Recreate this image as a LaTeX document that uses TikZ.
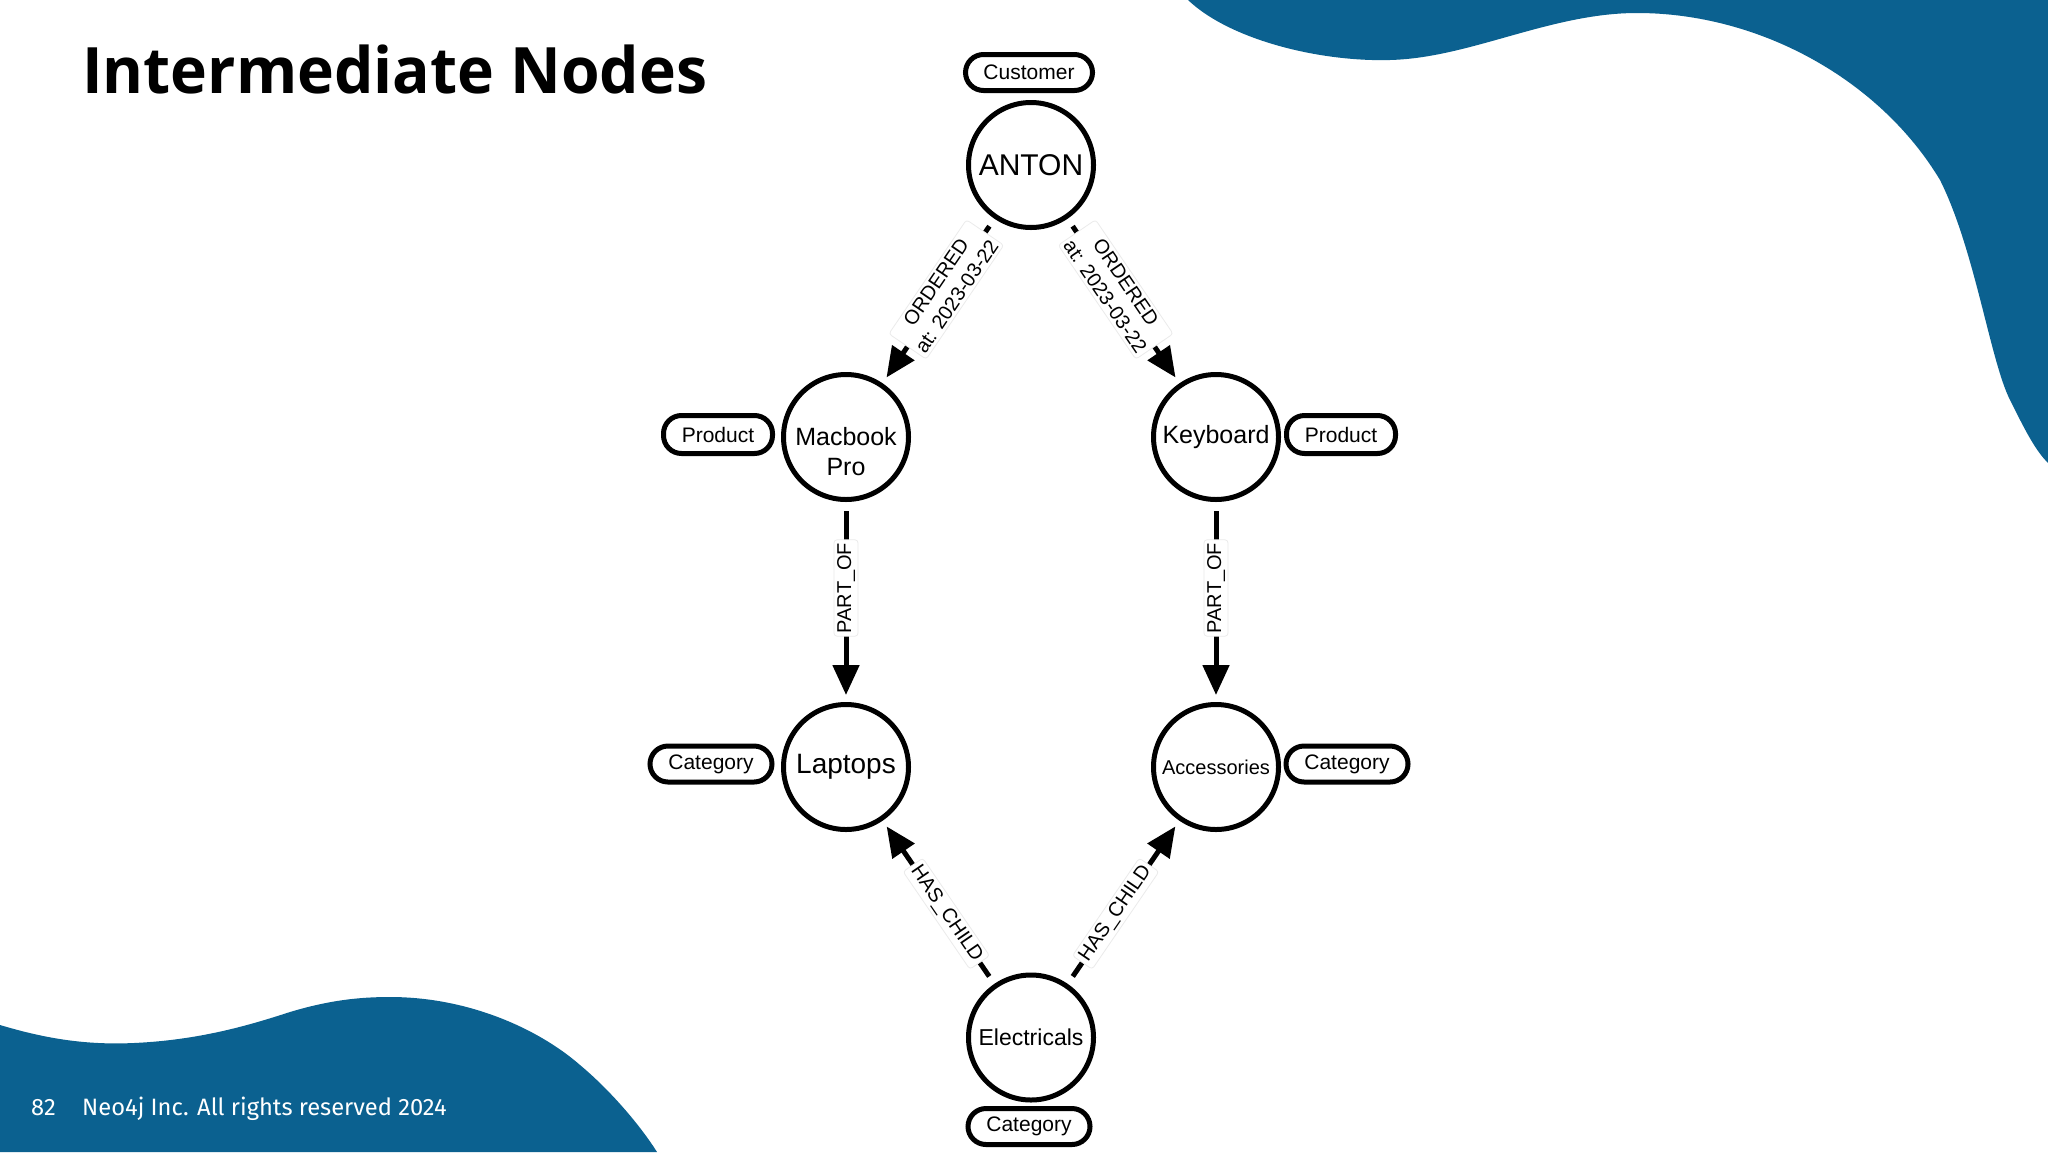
\documentclass[tikz,border=0pt]{standalone}
\usepackage{fontspec}
\setmainfont{Liberation Sans}
\newfontfamily\titlefont{Open Sans}
\newfontfamily\footfont{Fira Sans}
\usetikzlibrary{arrows.meta}
\definecolor{neoblue}{RGB}{11,97,144}
\tikzset{
  nodecirc/.style={circle, draw=black, fill=white, line width=5pt, minimum size=125pt,
    inner sep=0pt, align=center, font=\fontsize{25}{31}\selectfont},
  pill/.style={draw=black, fill=white, line width=5pt, rounded corners=18pt,
    minimum height=36pt, inner sep=0pt, font=\fontsize{21}{24}\selectfont},
  rel/.style={line width=5pt, -{Triangle[length=30pt,width=26pt]},
    shorten <=9pt, shorten >=7pt},
  rellabel/.style={fill=white, draw=black!8, line width=0.8pt, rounded corners=3pt,
    inner sep=3pt, pos=0.43, align=center, font=\fontsize{20}{25}\selectfont},
  foot/.style={anchor=base west, inner sep=0pt, text=white, font=\footfont\fontsize{23.7}{26}\selectfont}
}
\begin{document}
\begin{tikzpicture}[x=1pt,y=-1pt]
\useasboundingbox (0,0) rectangle (2048,1152);
\fill[white] (0,0) rectangle (2048,1152);
% background blobs
\fill[neoblue] (1188,0) .. controls (1230,40) and (1320,62) .. (1390,60)
  .. controls (1470,58) and (1550,13) .. (1637,13)
  .. controls (1760,13) and (1880,80) .. (1940,180)
  .. controls (1975,250) and (1990,360) .. (2010,400)
  .. controls (2025,430) and (2035,450) .. (2048,463) -- (2048,0) -- cycle;
\fill[neoblue] (0,1025) .. controls (50,1040) and (90,1045) .. (134,1043)
  .. controls (200,1040) and (250,1025) .. (290,1012)
  .. controls (330,1000) and (360,997) .. (390,997)
  .. controls (470,997) and (540,1030) .. (580,1065)
  .. controls (610,1090) and (640,1125) .. (657,1152) -- (0,1152) -- cycle;
% title and footer
\node[anchor=base west, inner sep=0pt, font=\titlefont\bfseries\fontsize{64}{70}\selectfont] (title) at (82,93) {\scalebox{0.975}[1]{Intermediate Nodes}};
\node[foot] (pagenum) at (31,1115) {82};
\node[foot] (footer) at (82,1115) {Neo4j Inc. All rights reserved 2024};
% graph nodes
\node[nodecirc, font=\fontsize{30}{34}\selectfont] (anton) at (1031,165) {ANTON};
\node[nodecirc] (mac) at (846,437) {\raisebox{-23.5pt}[0pt][0pt]{\begin{tabular}{@{}c@{}}Macbook\\[-1pt]Pro\end{tabular}}};
\node[nodecirc] (kb) at (1216,437) {Keyboard};
\node[nodecirc, font=\fontsize{28}{32}\selectfont] (lap) at (846,767) {Laptops};
\node[nodecirc, font=\fontsize{20}{24}\selectfont] (acc) at (1216,767) {Accessories};
\node[nodecirc, font=\fontsize{23}{27}\selectfont] (elec) at (1031,1037.5) {Electricals};
% labels
\node[pill, minimum width=127pt] (lcust) at (1029,72.5) {Customer};
\node[pill, minimum width=109pt, minimum height=38pt] (lprod1) at (718,434.5) {Product};
\node[pill, minimum width=109pt, minimum height=38pt] (lprod2) at (1341,434.5) {Product};
\node[pill, minimum width=122pt] (lcat1) at (711,764) {Category};
\node[pill, minimum width=122pt] (lcat2) at (1347,764) {Category};
\node[pill, minimum width=122pt] (lcat3) at (1029,1126.5) {Category};
% relationships
\draw[rel] (anton) -- (mac) node[rellabel, sloped] {ORDERED\\at: 2023-03-22};
\draw[rel] (anton) -- (kb) node[rellabel, sloped] {ORDERED\\at: 2023-03-22};
\draw[rel] (mac) -- (lap) node[rellabel, rotate=90] {PART\_OF};
\draw[rel] (kb) -- (acc) node[rellabel, rotate=90] {PART\_OF};
\draw[rel] (elec) -- (lap) node[rellabel, sloped] {HAS\_CHILD};
\draw[rel] (elec) -- (acc) node[rellabel, sloped] {HAS\_CHILD};
\end{tikzpicture}
\end{document}
